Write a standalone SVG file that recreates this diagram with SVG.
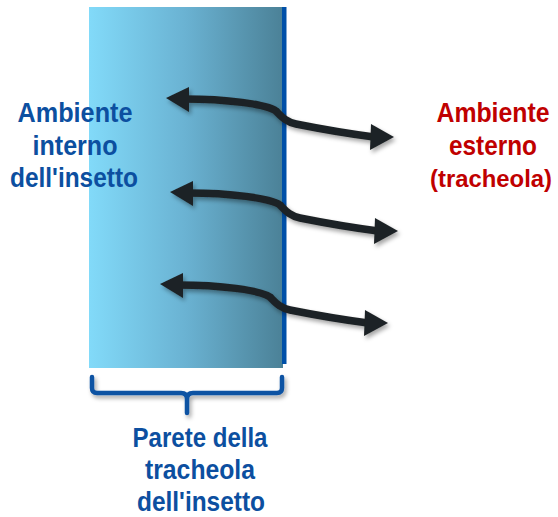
<svg xmlns="http://www.w3.org/2000/svg" xmlns:xlink="http://www.w3.org/1999/xlink" width="558" height="517" viewBox="0 0 558 517">
<style>
.lbl{font-family:"Liberation Sans",Arial,sans-serif;font-weight:bold;font-size:27px;text-anchor:middle}
.blue{fill:#0c4fa0}
.red{fill:#c00000}
.shaft{fill:none;stroke:#1d2225;stroke-width:7.5;stroke-linecap:round}
.head{fill:#1d2225}
</style>
<defs>
<linearGradient id="wallGrad" x1="0" y1="0" x2="1" y2="0">
<stop offset="0" stop-color="#82daf9"/>
<stop offset="0.5" stop-color="#6ab2d2"/>
<stop offset="1" stop-color="#4b8197"/>
</linearGradient>
<filter id="shadow" x="-10%" y="-30%" width="120%" height="160%">
<feDropShadow dx="2" dy="3" stdDeviation="2" flood-color="#000" flood-opacity="0.35"/>
</filter>
<g id="dblarrow">
<path class="shaft" d="M18,1 C60,1 100,6 110,13 C116,19 120,24 130,26 C160,32 185,36 208,39"/>
<polygon class="head" points="0,0 23,-11 23,14"/>
<polygon class="head" points="228,39 205,26 204,52"/>
</g>
</defs>
<g id="wall">
<rect x="89" y="7" width="194" height="361" fill="url(#wallGrad)"/>
<rect x="282" y="7" width="4.5" height="357" fill="#0050a8"/>
</g>
<g id="bracket">
<path d="M92,377 V388 Q92,393 97,393 H181 Q187,393 187,399 V413 M187,399 Q187,393 193,393 H277 Q282,393 282,388 V377" fill="none" stroke="#0c52a3" stroke-width="4.5" stroke-linecap="round" filter="url(#shadow)"/>
</g>
<g id="connectors" filter="url(#shadow)">
<use xlink:href="#dblarrow" transform="translate(166,98)"/>
<use xlink:href="#dblarrow" transform="translate(170,192)"/>
<use xlink:href="#dblarrow" transform="translate(160,284)"/>
</g>
<g id="internal">
<text class="lbl blue" x="75" y="122" textLength="115" lengthAdjust="spacingAndGlyphs">Ambiente</text>
<text class="lbl blue" x="75" y="155" textLength="85" lengthAdjust="spacingAndGlyphs">interno</text>
<text class="lbl blue" x="74" y="187" textLength="128" lengthAdjust="spacingAndGlyphs">dell'insetto</text>
</g>
<g id="external">
<text class="lbl red" x="493" y="122" textLength="113" lengthAdjust="spacingAndGlyphs">Ambiente</text>
<text class="lbl red" x="493" y="155" textLength="88" lengthAdjust="spacingAndGlyphs">esterno</text>
<text class="lbl red" x="491" y="187" style="font-size:24.5px" textLength="122" lengthAdjust="spacingAndGlyphs">(tracheola)</text>
</g>
<g id="wall-label">
<text class="lbl blue" x="200" y="447" textLength="135" lengthAdjust="spacingAndGlyphs">Parete della</text>
<text class="lbl blue" x="200" y="479" textLength="110" lengthAdjust="spacingAndGlyphs">tracheola</text>
<text class="lbl blue" x="201" y="511" textLength="128" lengthAdjust="spacingAndGlyphs">dell'insetto</text>
</g>
</svg>
